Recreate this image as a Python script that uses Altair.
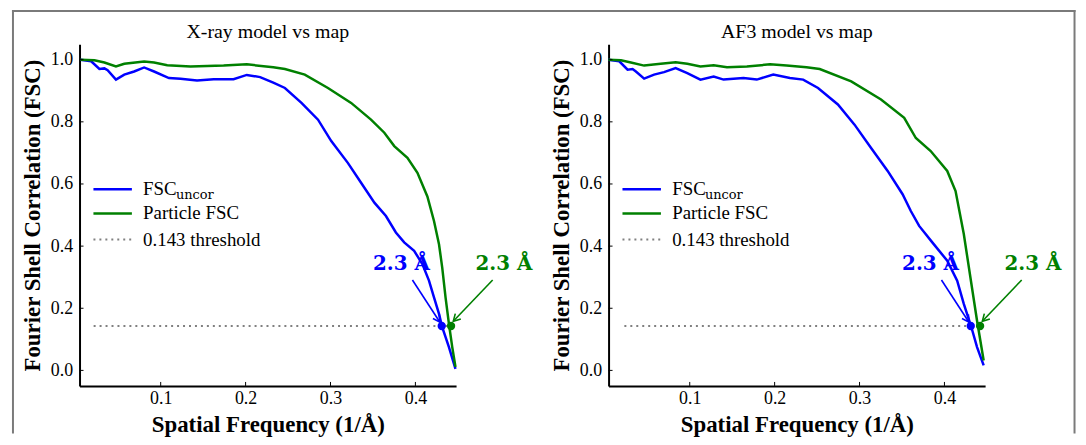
import math
import altair as alt
import pandas as pd

# ---------------- data ----------------
panel_titles = ["X-ray model vs map", "AF3 model vs map"]

xray_uncor_f = [0.0055, 0.0181, 0.0278, 0.0337, 0.0375, 0.0473, 0.0571, 0.0687, 0.0805, 0.0922,
                0.1097, 0.1234, 0.1428, 0.1624, 0.1858, 0.2014, 0.2171, 0.2326, 0.2463, 0.2658,
                0.2853, 0.3009, 0.3204, 0.3360, 0.3517, 0.3653, 0.3770, 0.3868, 0.3985, 0.4082,
                0.4160, 0.4219, 0.4278, 0.4316, 0.4395, 0.4472]
xray_uncor_v = [1.000, 0.995, 0.970, 0.972, 0.966, 0.936, 0.952, 0.962, 0.975, 0.962,
                0.941, 0.939, 0.933, 0.937, 0.937, 0.951, 0.944, 0.926, 0.909, 0.861,
                0.807, 0.738, 0.668, 0.604, 0.540, 0.497, 0.444, 0.412, 0.385, 0.342,
                0.289, 0.235, 0.182, 0.139, 0.075, 0.005]

xray_part_f = [0.0055, 0.0219, 0.0337, 0.0473, 0.0571, 0.0805, 0.0922, 0.1077, 0.1351, 0.1741,
               0.2014, 0.2326, 0.2463, 0.2697, 0.2970, 0.3243, 0.3477, 0.3634, 0.3751, 0.3906,
               0.4024, 0.4141, 0.4219, 0.4278, 0.4316, 0.4355, 0.4395, 0.4434, 0.4472]
xray_part_v = [1.000, 0.998, 0.991, 0.978, 0.987, 0.994, 0.991, 0.982, 0.978, 0.981,
               0.985, 0.976, 0.970, 0.952, 0.909, 0.861, 0.807, 0.765, 0.722, 0.684,
               0.636, 0.560, 0.481, 0.406, 0.331, 0.235, 0.150, 0.075, 0.011]

af3_uncor_f = [0.0041, 0.0170, 0.0268, 0.0327, 0.0366, 0.0463, 0.0580, 0.0697, 0.0834, 0.0971,
               0.1126, 0.1282, 0.1399, 0.1633, 0.1790, 0.1984, 0.2180, 0.2336, 0.2511, 0.2745,
               0.2941, 0.3136, 0.3331, 0.3507, 0.3604, 0.3702, 0.3857, 0.4033, 0.4150, 0.4228,
               0.4314, 0.4384, 0.4462]
af3_uncor_v = [1.000, 0.995, 0.968, 0.970, 0.962, 0.939, 0.952, 0.960, 0.973, 0.957,
               0.936, 0.946, 0.936, 0.941, 0.936, 0.952, 0.941, 0.936, 0.909, 0.856,
               0.791, 0.716, 0.642, 0.567, 0.513, 0.465, 0.412, 0.353, 0.289, 0.214,
               0.142, 0.075, 0.016]

af3_part_f = [0.0041, 0.0190, 0.0307, 0.0463, 0.0658, 0.0834, 0.0971, 0.1126, 0.1282, 0.1439,
              0.1673, 0.1946, 0.2141, 0.2375, 0.2531, 0.2902, 0.3253, 0.3526, 0.3663, 0.3838,
              0.4033, 0.4131, 0.4228, 0.4306, 0.4384, 0.4462]
af3_part_v = [1.000, 0.998, 0.991, 0.981, 0.987, 0.992, 0.987, 0.978, 0.982, 0.976,
              0.978, 0.985, 0.981, 0.976, 0.970, 0.930, 0.872, 0.813, 0.748, 0.706,
              0.642, 0.577, 0.439, 0.299, 0.160, 0.032]

threshold = 0.143
thr_start = [0.021, 0.023]
thr_end = 0.441
cross_uncor = 0.431
cross_part = 0.442
res_labels = ["2.3 Å", "2.3 Å"]
label_pos_f = [0.3836, 0.5042]
label_pos_v = [0.342, 0.342]
arrow_from_f = [0.3965, 0.4910]
arrow_from_v = [0.291, 0.291]
arrow_to_f = [0.4289, 0.4446]
arrow_to_v = [0.155, 0.158]

legend_labels = ["FSC", "Particle FSC", "0.143 threshold"]
legend_sub = "uncor"

x_ticks = [0.1, 0.2, 0.3, 0.4]
y_ticks = [0.0, 0.2, 0.4, 0.6, 0.8, 1.0]
X_DOMAIN = [0.0044, 0.4479]
Y_DOMAIN = [-0.05, 1.05]

# ---------------- styling ----------------
W, H = 379, 344
GAP = 153.5          # between the two plot areas
BLUE = "#0000ff"
GREEN = "#008000"
GREY = "#808080"
FRAME = "#7a7a7a"
SERIF = "Liberation Serif"
CHEVRON = "M -0.55 1 L 0 0 L 0.55 1"

xs = alt.Scale(domain=X_DOMAIN, nice=False, zero=False)
ys = alt.Scale(domain=Y_DOMAIN, nice=False, zero=False)

xaxis = alt.Axis(values=x_ticks, format=".1f", title="Spatial Frequency (1/Å)",
                 ticks=False, grid=False, domainColor="black", domainWidth=2,
                 labelFont=SERIF, labelFontSize=18, labelColor="black", labelPadding=4,
                 titleFont=SERIF, titleFontSize=23, titleFontWeight="bold", titleColor="black",
                 titleX=W / 2, titleY=39, titleBaseline="middle", titleAlign="center")
yaxis = alt.Axis(values=y_ticks, format=".1f", title="Fourier Shell Correlation (FSC)",
                 ticks=False, grid=False, domainColor="black", domainWidth=2,
                 labelFont=SERIF, labelFontSize=18, labelColor="black", labelPadding=7,
                 titleFont=SERIF, titleFontSize=23, titleFontWeight="bold", titleColor="black",
                 titleX=-47.5, titleY=H / 2, titleAngle=270, titleBaseline="middle",
                 titleAlign="center")


def X(field):
    return alt.X(field, type="quantitative", scale=xs, axis=xaxis)


def Y(field):
    return alt.Y(field, type="quantitative", scale=ys, axis=yaxis)


sx = W / (X_DOMAIN[1] - X_DOMAIN[0])
sy = H / (Y_DOMAIN[1] - Y_DOMAIN[0])
arrow_angles = []
for i in range(2):
    dx = (arrow_to_f[i] - arrow_from_f[i]) * sx
    dy = (arrow_from_v[i] - arrow_to_v[i]) * sy
    arrow_angles.append(math.degrees(math.atan2(dx, -dy)) % 360)

dummy = pd.DataFrame({"d": [0]})


def frame_piece(x0, x1, y0, y1):
    return alt.Chart(dummy).mark_rect(color=FRAME, strokeWidth=0).encode(
        x=alt.value(x0), x2=alt.value(x1), y=alt.value(y0), y2=alt.value(y1))


def panel(idx, uf, uv, pf, pv):
    layers = []
    # figure frame (decoration), drawn once in the first panel
    if idx == 0:
        top0, top1, bottom = -34.3, -32.3, 392
        right_edge = W + GAP + 470
        layers.append(frame_piece(-68, right_edge, top0, top1))
        layers.append(frame_piece(-68, -66, top0, bottom))
        layers.append(frame_piece(right_edge - 2, right_edge, top0, bottom))
    # panel title
    layers.append(alt.Chart(pd.DataFrame({"t": [panel_titles[idx]]})).mark_text(
        font=SERIF, fontSize=20, color="black", align="center", baseline="middle").encode(
        x=alt.value(W / 2), y=alt.value(-12.3), text="t:N"))
    # threshold
    thr_df = pd.DataFrame({"x0": [thr_start[idx]], "x1": [thr_end], "y": [threshold]})
    layers.append(alt.Chart(thr_df).mark_rule(color=GREY, strokeWidth=2, strokeDash=[2, 4]).encode(
        x=X("x0"), x2="x1", y=Y("y")))
    # curves
    lines_df = pd.DataFrame({
        "f": uf + pf, "v": uv + pv,
        "col": [BLUE] * len(uf) + [GREEN] * len(pf),
        "i": list(range(len(uf))) + list(range(len(pf))),
    })
    layers.append(alt.Chart(lines_df).mark_line(strokeWidth=2.5).encode(
        x=X("f"), y=Y("v"), color=alt.Color("col:N", scale=None), order="i:Q"))
    # inward ticks
    layers.append(alt.Chart(pd.DataFrame({"t": x_ticks})).mark_rule(color="black", strokeWidth=1).encode(
        x=X("t"), y=alt.value(H), y2=alt.value(H - 4)))
    layers.append(alt.Chart(pd.DataFrame({"t": y_ticks})).mark_rule(color="black", strokeWidth=1).encode(
        y=Y("t"), x=alt.value(0), x2=alt.value(4)))
    # arrows
    arr_df = pd.DataFrame({"x0": arrow_from_f, "y0": arrow_from_v, "x1": arrow_to_f, "y1": arrow_to_v,
                           "a": arrow_angles, "col": [BLUE, GREEN]})
    layers.append(alt.Chart(arr_df).mark_rule(strokeWidth=1.6).encode(
        x=X("x0"), y=Y("y0"), x2="x1", y2="y1", color=alt.Color("col:N", scale=None)))
    layers.append(alt.Chart(arr_df).mark_point(shape=CHEVRON, filled=False, size=196,
                                               strokeWidth=1.6, opacity=1).encode(
        x=X("x1"), y=Y("y1"), angle=alt.Angle("a:Q", scale=None),
        color=alt.Color("col:N", scale=None)))
    # crossing dots
    dot_df = pd.DataFrame({"x": [cross_uncor, cross_part], "y": [threshold, threshold],
                           "col": [BLUE, GREEN]})
    layers.append(alt.Chart(dot_df).mark_point(filled=True, size=70, opacity=1, shape="circle").encode(
        x=X("x"), y=Y("y"), color=alt.Color("col:N", scale=None)))
    # resolution labels
    lab_df = pd.DataFrame({"x": label_pos_f, "y": label_pos_v, "t": res_labels, "col": [BLUE, GREEN]})
    layers.append(alt.Chart(lab_df).mark_text(font="DejaVu Serif", fontWeight="bold", fontSize=20,
                                              align="center", baseline="middle").encode(
        x=X("x"), y=Y("y"), text="t:N", color=alt.Color("col:N", scale=None)))
    # legend (decoration)
    rows = [146, 170.4, 196.7]
    layers.append(alt.Chart(dummy).mark_rule(color=BLUE, strokeWidth=2.5).encode(
        x=alt.value(14), x2=alt.value(52.7), y=alt.value(rows[0])))
    layers.append(alt.Chart(dummy).mark_rule(color=GREEN, strokeWidth=2.5).encode(
        x=alt.value(14), x2=alt.value(52.7), y=alt.value(rows[1])))
    layers.append(alt.Chart(dummy).mark_rule(color=GREY, strokeWidth=2, strokeDash=[2, 4]).encode(
        x=alt.value(14), x2=alt.value(52.7), y=alt.value(rows[2])))
    for k in range(3):
        layers.append(alt.Chart(pd.DataFrame({"t": [legend_labels[k]]})).mark_text(
            font=SERIF, fontSize=19, color="black", align="left", baseline="middle").encode(
            x=alt.value(64), y=alt.value(rows[k]), text="t:N"))
    layers.append(alt.Chart(pd.DataFrame({"t": [legend_sub]})).mark_text(
        font="DejaVu Serif", fontSize=13, color="black", align="left", baseline="middle").encode(
        x=alt.value(97), y=alt.value(rows[0] + 6), text="t:N"))
    return alt.layer(*layers).properties(width=W, height=H)


left = panel(0, xray_uncor_f, xray_uncor_v, xray_part_f, xray_part_v)
right = panel(1, af3_uncor_f, af3_uncor_v, af3_part_f, af3_part_v)

chart = alt.hconcat(left, right, spacing=GAP, bounds="flush").properties(
    padding={"left": 4, "top": 0, "right": 2, "bottom": 0}
).configure_view(stroke=None)

chart.save("out.html", embed_options={"renderer": "svg", "actions": False})
